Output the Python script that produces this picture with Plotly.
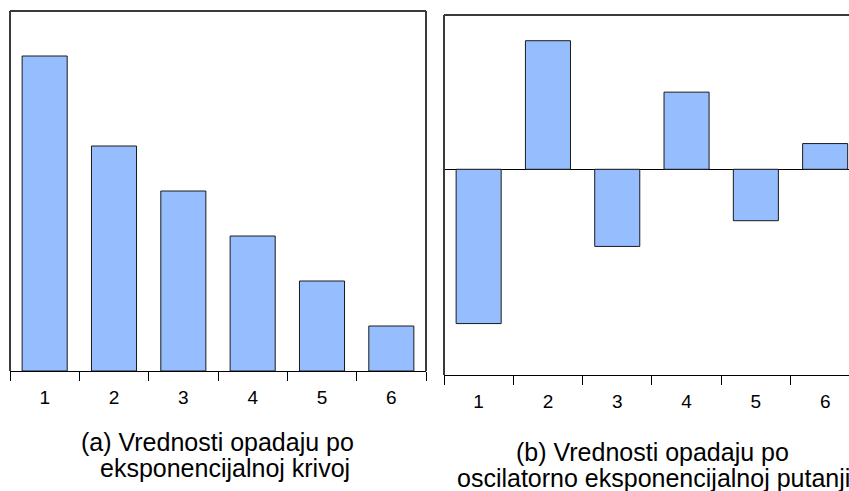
import plotly.graph_objects as go

categories = ["1", "2", "3", "4", "5", "6"]
values_a = [7, 5, 4, 3, 2, 1]
values_b = [-6, 5, -3, 3, -2, 1]
caption_a = ["(a) Vrednosti opadaju po", "eksponencijalnoj krivoj"]
caption_b = ["(b) Vrednosti opadaju po", "oscilatorno eksponencijalnoj putanji"]

W, H = 849, 491
BAR_COLOR = "#96BEFF"
FONT = "Liberation Sans, Arial, sans-serif"

fig = go.Figure()
fig.add_trace(go.Bar(x=categories, y=values_a, xaxis="x", yaxis="y",
                     marker=dict(color=BAR_COLOR, line=dict(color="#1a1a1a", width=1)),
                     width=0.65))
fig.add_trace(go.Bar(x=categories, y=values_b, xaxis="x2", yaxis="y2",
                     marker=dict(color=BAR_COLOR, line=dict(color="#1a1a1a", width=1)),
                     width=0.65))

def px_x(p):
    return p / W

def px_y(p):
    return (H - p) / H

xcommon = dict(type="category", showline=True, linecolor="black", linewidth=1,
               ticks="outside", tickson="boundaries", ticklen=9, tickcolor="black",
               tickwidth=1, showgrid=False, zeroline=False, ticklabelstandoff=9,
               tickfont=dict(size=19, color="black", family=FONT))
fig.update_layout(
    width=W, height=H, margin=dict(l=0, r=0, t=0, b=0),
    paper_bgcolor="white", plot_bgcolor="white", showlegend=False,
    xaxis=dict(domain=[px_x(10), px_x(426)], range=[-0.5, 5.5], anchor="y", **xcommon),
    yaxis=dict(domain=[px_y(371), px_y(11)], range=[0, 8], showticklabels=False,
               showgrid=False, zeroline=False, showline=False, anchor="x"),
    xaxis2=dict(domain=[px_x(444), 1], range=[-0.5, 5.344], anchor="y2", **xcommon),
    yaxis2=dict(domain=[px_y(375), px_y(15)], range=[-8, 6], showticklabels=False,
                showgrid=False, zeroline=True, zerolinecolor="black", zerolinewidth=1,
                showline=False, anchor="x2"),
)

border = dict(color="#3a3a3a", width=2)
# Left panel frame: left, top, right
fig.add_shape(type="line", xref="x domain", yref="y domain", x0=0, x1=0, y0=0, y1=1, line=border)
fig.add_shape(type="line", xref="x domain", yref="y domain", x0=0, x1=1, y0=1, y1=1, line=border)
fig.add_shape(type="line", xref="x domain", yref="y domain", x0=1, x1=1, y0=0, y1=1, line=border)
# Right panel frame: left, top (right edge is off the page)
fig.add_shape(type="line", xref="x2 domain", yref="y2 domain", x0=0, x1=0, y0=0, y1=1, line=border)
fig.add_shape(type="line", xref="x2 domain", yref="y2 domain", x0=0, x1=1.02, y0=1, y1=1, line=border)

cap_font = dict(size=25, color="black", family=FONT)
for text, cx, cy in ((caption_a[0], 217.5, 441.7), (caption_a[1], 225, 468),
                     (caption_b[0], 652, 451.7), (caption_b[1], 653, 478)):
    fig.add_annotation(text=text, x=px_x(cx), y=px_y(cy), xref="paper", yref="paper",
                       showarrow=False, xanchor="center", yanchor="middle", font=cap_font)

fig.write_html("out.html")
